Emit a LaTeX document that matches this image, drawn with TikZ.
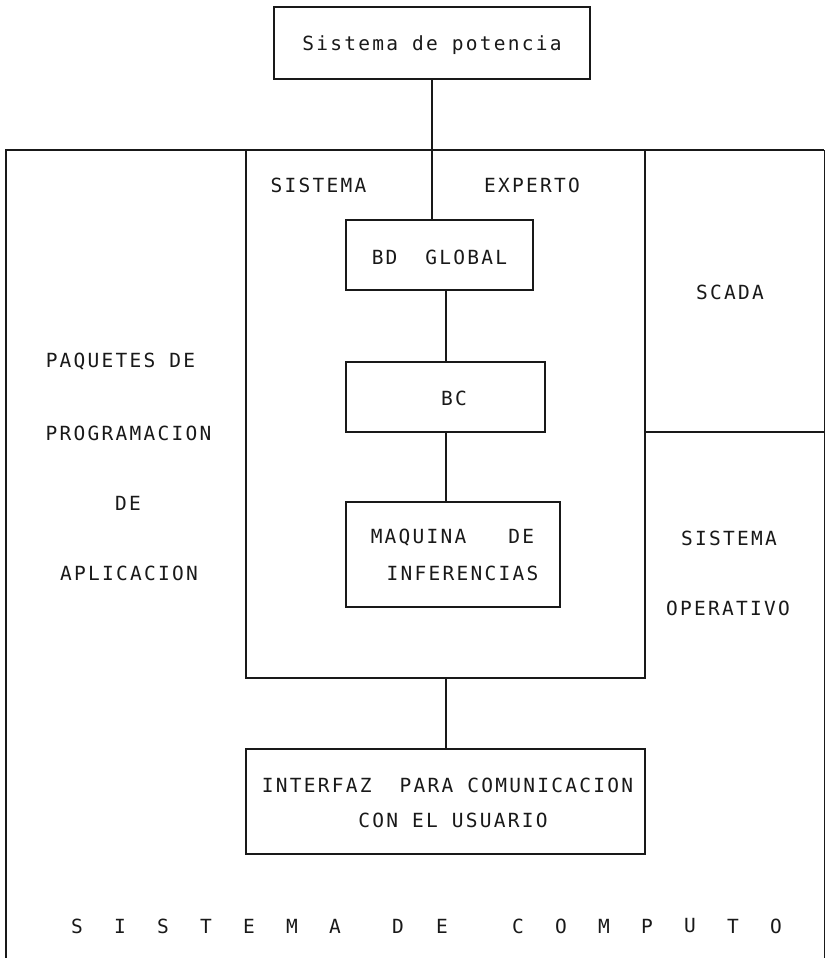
\documentclass[tikz,border=0pt]{standalone}
\usepackage{fontspec}
\newfontfamily\dm[LetterSpace=11.6]{DejaVu Sans Mono}
\newcommand\gp{\hspace*{14pt}}
\begin{document}
\begin{tikzpicture}[x=1pt,y=-1pt,
  ln/.style={line width=2pt, draw=black!90},
  box/.style={draw=black!90, line width=2pt, inner sep=0pt},
  txt/.style={font=\dm\fontsize{19.5}{19.5}\selectfont, inner sep=0pt, text=black!90}]
\useasboundingbox[fill=white] (0,0) rectangle (826,958);

% outer frame (open at bottom)
\coordinate (otl) at (6,150);
\coordinate (otr) at (824,150);
\coordinate (obl) at (6,958);
\coordinate (obr) at (824,958);
\draw[ln] (obl) -- (otl) -- (otr);
\draw[ln, line width=1pt] (otr) -- (obr);

% boxes
\node[box, minimum width=316pt, minimum height=72pt] (top) at (432,43) {};
\node[box, minimum width=399pt, minimum height=528pt] (se) at (445.5,414) {};
\node[box, minimum width=187pt, minimum height=70pt] (bd) at (439.5,255) {};
\node[box, minimum width=199pt, minimum height=70pt] (bc) at (445.5,397) {};
\node[box, minimum width=214pt, minimum height=105pt] (maq) at (453,554.5) {};
\node[box, minimum width=399pt, minimum height=105pt] (inter) at (445.5,801.5) {};

% SCADA separator
\coordinate (scr) at (824,432);
\draw[ln] (se.east |- scr) -- (scr);

% connectors
\coordinate (cx) at (446,0);
\draw[ln] (top.south) -- (top.south |- bd.north);
\draw[ln] (cx |- bd.south) -- (cx |- bc.north);
\draw[ln] (cx |- bc.south) -- (cx |- maq.north);
\draw[ln] (cx |- se.south) -- (cx |- inter.north);

% texts
\node[txt] (ttop) at (432,45) {Sistema\gp de\gp potencia};
\node[txt] (tse1) at (318.5,185) {SISTEMA};
\node[txt] (tse2) at (532,185) {EXPERTO};
\node[txt] (tbd) at (439.5,257) {BD\gp\gp GLOBAL};
\node[txt] (tscada) at (730,292) {SCADA};
\node[txt] (tp1) at (120.5,362) {PAQUETES\gp DE};
\node[txt] (tbc) at (454,398) {BC};
\node[txt] (tp2) at (128.5,433) {PROGRAMACION};
\node[txt] (tp3) at (128,503) {DE};
\node[txt] (tp4) at (129,573) {APLICACION};
\node[txt] (tm1) at (452.5,538) {MAQUINA\gp\gp\gp DE};
\node[txt] (tm2) at (462.5,573) {INFERENCIAS};
\node[txt] (to1) at (729,538) {SISTEMA};
\node[txt] (to2) at (728,608) {OPERATIVO};
\node[txt] (ti1) at (447.5,785) {INTERFAZ\gp\gp PARA\gp COMUNICACION};
\node[txt] (ti2) at (453,820) {CON\gp EL\gp USUARIO};
\foreach \ch/\xx [count=\i] in {S/77,I/120,S/163,T/206,E/249,M/292,A/335,D/398,E/442,C/518,O/561,M/604,P/647,U/690,T/733,O/776}
  \node[txt] (sc\i) at (\xx,926) {\ch};
\end{tikzpicture}
\end{document}
